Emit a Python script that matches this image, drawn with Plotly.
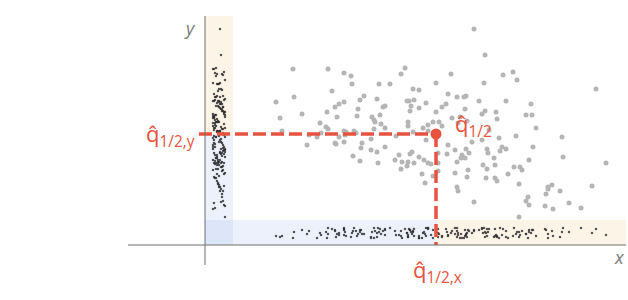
import plotly.graph_objects as go

# Scatter data (x, y)
xs = [88,123,139,146,147,127,71,89,139,134,130,122,132,97,75,115,
      200,196,174,185,231,208,214,159,155,172,202,204,209,206,221,180,178,214,153,205,237,231,175,152,167,169,203,170,228,234,
      269,280,246,298,308,312,279,243,252,259,261,274,301,326,241,260,280,277,291,247,255,321,327,292,262,
      391,
      77,121,123,116,104,112,102,130,131,134,139,141,140,149,139,148,
      169,176,180,203,218,223,237,208,223,191,151,166,157,156,166,172,180,221,155,173,194,190,197,207,205,203,202,209,214,219,223,226,196,217,220,228,233,233,233,
      243,242,250,261,264,257,256,260,252,267,277,282,283,295,297,301,294,311,328,289,278,282,290,324,309,315,317,303,250,263,262,281,290,292,314,252,253,269,323,321,324,314,253,284,
      331,357,358,401,347,343,343,341,355,387,340,348,364,376]
ys = [176,176,172,169,161,154,143,148,143,141,138,133,128,131,127,122,
      177,171,161,161,162,156,155,149,145,146,144,144,145,139,142,139,138,137,136,134,138,133,130,129,128,125,123,123,123,123,
      216,190,171,170,173,165,162,151,148,148,149,144,144,141,141,136,134,131,133,127,128,130,130,126,124,
      156,
      114,118,116,112,110,108,100,102,101,108,114,113,110,114,103,89,
      116,121,117,119,117,120,119,113,114,109,112,106,102,97,95,93,98,105,84,82,90,85,83,93,91,83,79,82,88,85,82,81,76,71,62,69,92,82,74,
      100,91,95,96,92,90,87,87,83,103,105,96,92,94,98,96,107,109,98,87,80,76,80,85,78,78,75,71,72,75,68,67,67,64,61,58,54,43,48,44,40,28,122,115,
      117,108,88,82,60,58,56,51,54,59,39,36,42,37]

# Medians
q_x = 231
q_y = 111

RED = "#e8533f"
GRAY_TXT = "#7a7a7a"
AXIS = "#6e6e6e"

n = len(xs)
# deterministic visual spread of rug marks inside their strips
jit_a = [7 + ((i * 37) % 11) for i in range(n)]
jit_b = [8 + ((i * 53) % 13) for i in range(n)]

fig = go.Figure()

fig.add_trace(go.Scatter(x=xs, y=ys, mode="markers",
                         marker=dict(size=5, color="#b5b5b5"), hoverinfo="skip"))
# x rug
fig.add_trace(go.Scatter(x=xs, y=jit_a, mode="markers",
                         marker=dict(size=2.2, symbol="square", color="rgba(45,45,45,0.8)"), hoverinfo="skip"))
# y rug
fig.add_trace(go.Scatter(x=jit_b, y=ys, mode="markers",
                         marker=dict(size=2.2, symbol="square", color="rgba(45,45,45,0.8)"), hoverinfo="skip"))

# dashed median lines
fig.add_trace(go.Scatter(x=[-6, q_x], y=[q_y, q_y], mode="lines",
                         line=dict(color=RED, width=3.5, dash="13px,5px"), hoverinfo="skip"))
fig.add_trace(go.Scatter(x=[q_x, q_x], y=[q_y, 0], mode="lines",
                         line=dict(color=RED, width=3.5, dash="13px,5px"), hoverinfo="skip"))
fig.add_trace(go.Scatter(x=[q_x], y=[q_y], mode="markers",
                         marker=dict(size=11, color=RED), hoverinfo="skip"))

shapes = [
    # y strip
    dict(type="rect", x0=0, x1=28, y0=q_y, y1=229, fillcolor="#fdf4e8", line_width=0, layer="below"),
    dict(type="rect", x0=0, x1=28, y0=0, y1=q_y, fillcolor="#ecf1fc", line_width=0, layer="below"),
    # x strip
    dict(type="rect", x0=0, x1=q_x, y0=0, y1=25, fillcolor="#ecf1fc", line_width=0, layer="below"),
    dict(type="rect", x0=q_x, x1=421, y0=0, y1=25, fillcolor="#fdf4e8", line_width=0, layer="below"),
    dict(type="rect", x0=0, x1=28, y0=0, y1=25, fillcolor="#dde5f8", line_width=0, layer="below"),
    # axes
    dict(type="line", x0=-77, x1=421, y0=0, y1=0, line=dict(color=AXIS, width=1)),
    dict(type="line", x0=0, x1=0, y0=-20, y1=229, line=dict(color=AXIS, width=1)),
]

font = "Open Sans"
annotations = [
    dict(x=-15, y=217, text="<i>y</i>", showarrow=False, xanchor="center", yanchor="middle",
         font=dict(family=font, size=18, color=GRAY_TXT)),
    dict(x=414, y=-12, text="<i>x</i>", showarrow=False, xanchor="center", yanchor="middle",
         font=dict(family=font, size=18, color=GRAY_TXT)),
    dict(x=-8, y=110, text="q\u0302<sub>1/2,y</sub>", showarrow=False, xanchor="right", yanchor="middle",
         font=dict(family=font, size=22, color=RED)),
    dict(x=248, y=120, text="q\u0302<sub>1/2</sub>", showarrow=False, xanchor="left", yanchor="middle",
         font=dict(family=font, size=22, color=RED)),
    dict(x=232, y=-26, text="q\u0302<sub>1/2,x</sub>", showarrow=False, xanchor="center", yanchor="middle",
         font=dict(family=font, size=22, color=RED)),
]

fig.update_layout(
    width=628, height=300, margin=dict(l=0, r=0, t=0, b=0),
    paper_bgcolor="white", plot_bgcolor="white", showlegend=False,
    xaxis=dict(range=[-205, 423], visible=False, fixedrange=True),
    yaxis=dict(range=[-55, 245], visible=False, fixedrange=True),
    shapes=shapes, annotations=annotations,
)

fig.write_html("out.html")
